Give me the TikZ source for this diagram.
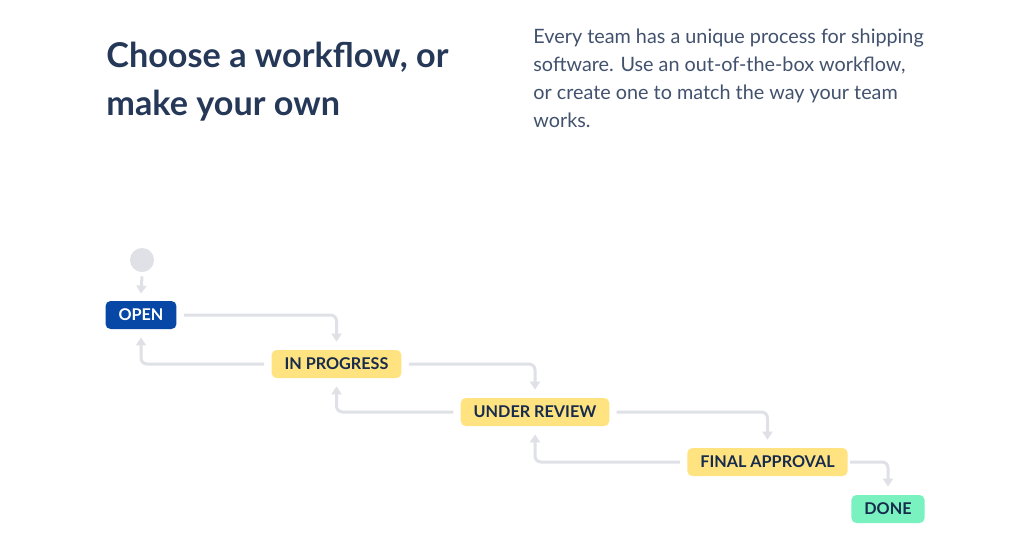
\documentclass[tikz,border=0pt]{standalone}
\usepackage{fontspec}
\setmainfont{Lato}
\usetikzlibrary{arrows.meta}
\definecolor{navy}{HTML}{253858}
\definecolor{bodytxt}{HTML}{42526E}
\definecolor{labeltxt}{HTML}{172B4D}
\definecolor{openblue}{HTML}{0747A6}
\definecolor{progyellow}{HTML}{FFE380}
\definecolor{donegreen}{HTML}{79F2C0}
\definecolor{linegrey}{HTML}{DFE1E6}
\tikzset{
  status/.style={rounded corners=2.5pt, minimum height=14pt, inner xsep=6.5pt, inner ysep=0pt,
    font=\fontsize{8.1}{9.5}\selectfont\bfseries, text=labeltxt},
  flow/.style={draw=linegrey, line width=1.5pt, rounded corners=3pt,
    -{Triangle[width=5pt,length=4pt]}},
  titleline/.style={anchor=base west, inner sep=0pt, text=navy, font=\fontsize{17.1}{20}\selectfont\bfseries},
  bodyline/.style={anchor=base west, inner sep=0pt, text=bodytxt, font=\fontsize{9.9}{12}\selectfont},
}
\begin{document}
\begin{tikzpicture}[x=0.5pt,y=-0.5pt]
\useasboundingbox[fill=white] (0,0) rectangle (1028,559);
% heading
\node[titleline] (t1) at (106,67) {Choose a workflow, or};
\node[titleline] (t2) at (106,115) {make your own};
\node[bodyline] (b1) at (533,43) {Every team has a unique process for shipping};
\node[bodyline] (b2) at (533,71) {software. Use an out-of-the-box workflow,};
\node[bodyline] (b3) at (533,99) {or create one to match the way your team};
\node[bodyline] (b4) at (533,127) {works.};
% workflow
\node[circle, fill=linegrey, minimum size=12pt, inner sep=0pt] (start) at (142,260) {};
\node[status, fill=openblue, text=white] (open) at (141,315) {OPEN};
\node[status, fill=progyellow] (prog) at (336.5,364) {IN PROGRESS};
\node[status, fill=progyellow] (review) at (535,412) {UNDER REVIEW};
\node[status, fill=progyellow] (final) at (767.5,462) {FINAL APPROVAL};
\node[status, fill=donegreen] (done) at (888,509) {DONE};
% connectors
\draw[flow] ([yshift=-2pt]start.south) -- ([yshift=3.5pt]open.north);
\draw[flow] ([xshift=3.5pt]open.east) -| ([yshift=4pt]prog.north);
\draw[flow] ([xshift=-3.5pt]prog.west) -| ([yshift=-4pt]open.south);
\draw[flow] ([xshift=3.5pt]prog.east) -| ([yshift=4pt]review.north);
\draw[flow] ([xshift=-3.5pt]review.west) -| ([yshift=-4pt]prog.south);
\draw[flow] ([xshift=3.5pt]review.east) -| ([yshift=4pt]final.north);
\draw[flow] ([xshift=-3.5pt]final.west) -| ([yshift=-4pt]review.south);
\draw[flow] ([xshift=1pt]final.east) -| ([yshift=4pt]done.north);
\end{tikzpicture}
\end{document}
